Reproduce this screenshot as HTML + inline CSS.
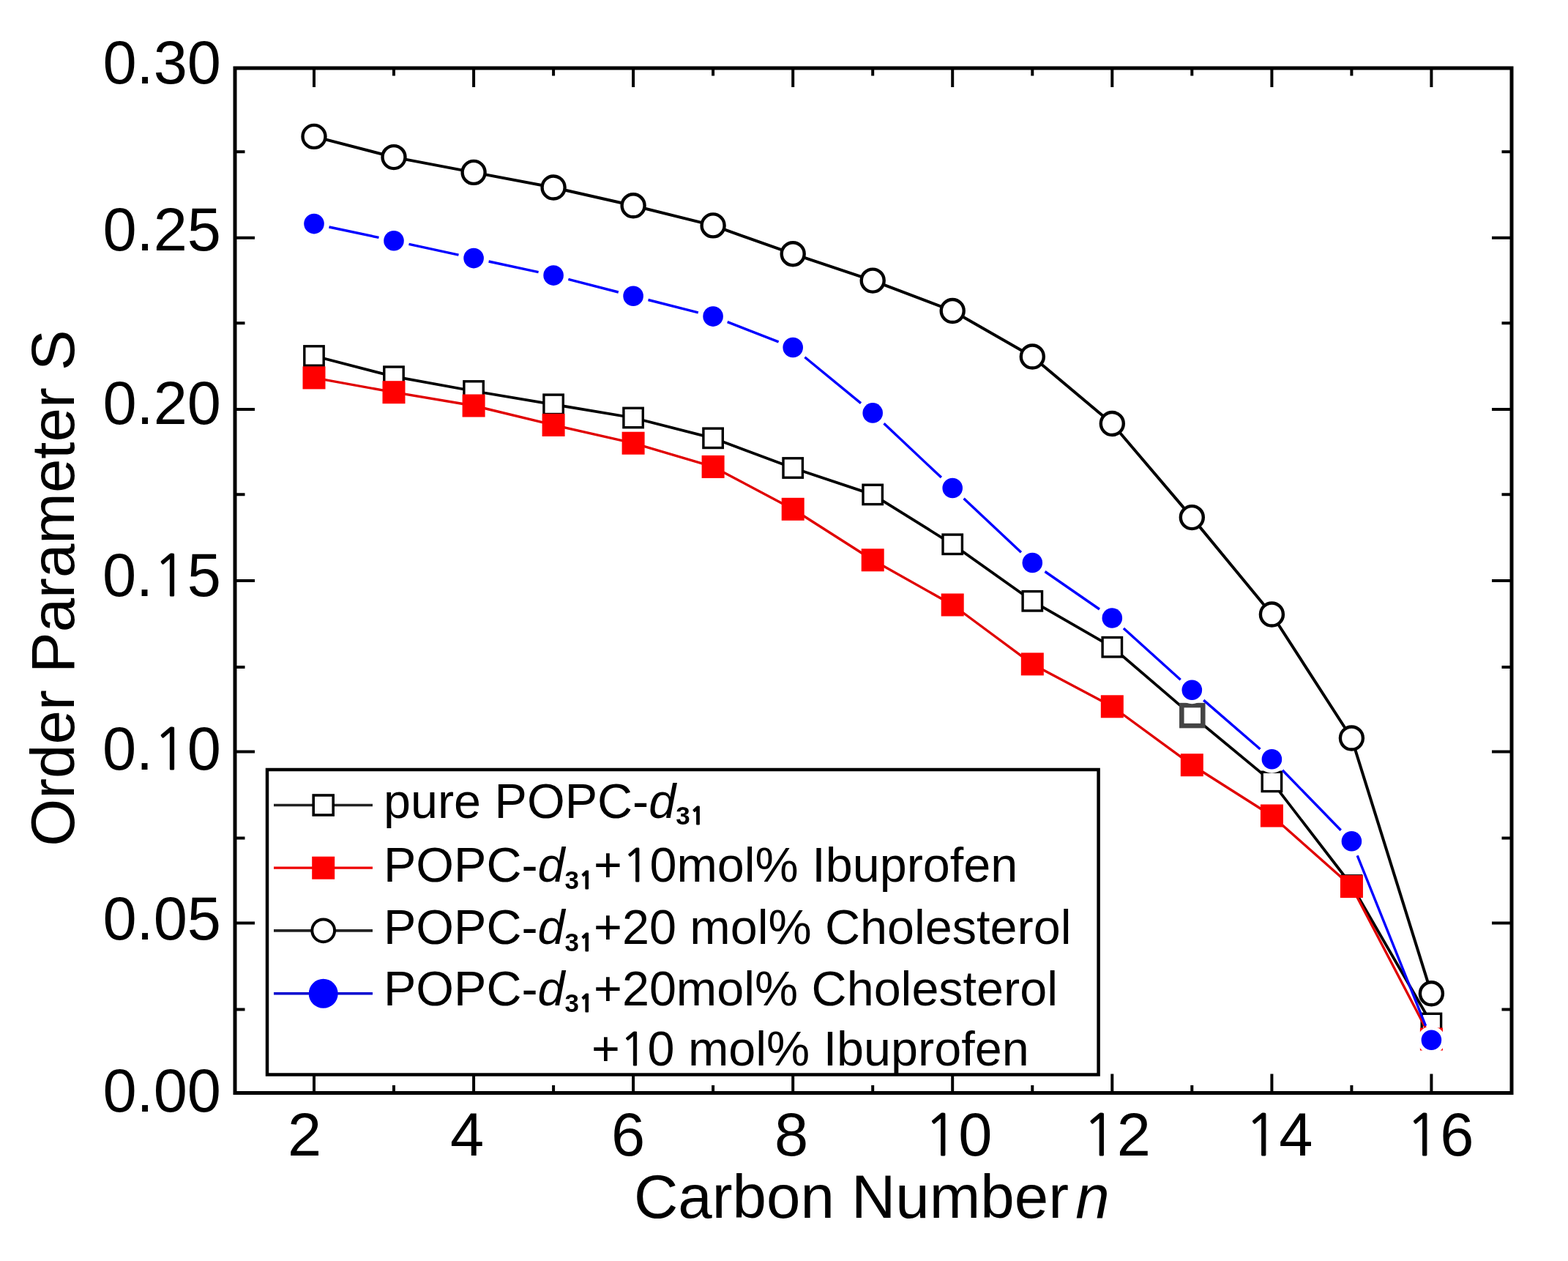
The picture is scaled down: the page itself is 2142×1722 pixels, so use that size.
<!DOCTYPE html>
<html><head><meta charset="utf-8"><title>Order Parameter</title>
<style>html,body{margin:0;padding:0;background:#fff;}svg{display:block;}</style></head>
<body>
<svg width="2142" height="1722" viewBox="0 0 2142 1722">
<rect x="0" y="0" width="2142" height="1722" fill="#fff"/>
<path d="M429.0 1492.5V1466.5M429.0 93V119M538.0 1492.5V1482.0M538.0 93V103.5M647.1 1492.5V1466.5M647.1 93V119M756.1 1492.5V1482.0M756.1 93V103.5M865.1 1492.5V1466.5M865.1 93V119M974.1 1492.5V1482.0M974.1 93V103.5M1083.2 1492.5V1466.5M1083.2 93V119M1192.2 1492.5V1482.0M1192.2 93V103.5M1301.2 1492.5V1466.5M1301.2 93V119M1410.3 1492.5V1482.0M1410.3 93V103.5M1519.3 1492.5V1466.5M1519.3 93V119M1628.3 1492.5V1482.0M1628.3 93V103.5M1737.4 1492.5V1466.5M1737.4 93V119M1846.4 1492.5V1482.0M1846.4 93V103.5M1955.4 1492.5V1466.5M1955.4 93V119M321 1492.5H348M2065 1492.5H2038M321 1378.5H334.5M2065 1378.5H2051.5M321 1260.5H348M2065 1260.5H2038M321 1144.6H334.5M2065 1144.6H2051.5M321 1026.5H348M2065 1026.5H2038M321 910.9H334.5M2065 910.9H2051.5M321 793.0H348M2065 793.0H2038M321 675.2H334.5M2065 675.2H2051.5M321 559.0H348M2065 559.0H2038M321 441.2H334.5M2065 441.2H2051.5M321 324.8H348M2065 324.8H2038M321 207.2H334.5M2065 207.2H2051.5M321 93.0H348M2065 93.0H2038" stroke="#000" stroke-width="4" fill="none"/>
<rect x="321" y="93" width="1744" height="1399.5" fill="none" stroke="#000" stroke-width="5"/>
<polyline points="429.0,486.0 538.0,514.2 647.1,534.0 756.1,552.3 865.1,570.5 974.1,598.3 1083.2,639.0 1192.2,675.4 1301.2,743.3 1410.3,820.8 1519.3,883.7 1628.3,977.1 1737.4,1067.4 1846.4,1209.0 1955.4,1397.5" fill="none" stroke="#000" stroke-width="3.8" stroke-linejoin="round"/>
<rect x="415.8" y="472.8" width="26.4" height="26.4" fill="#fff" stroke="#000" stroke-width="3.4"/>
<rect x="524.8" y="501.0" width="26.4" height="26.4" fill="#fff" stroke="#000" stroke-width="3.4"/>
<rect x="633.9" y="520.8" width="26.4" height="26.4" fill="#fff" stroke="#000" stroke-width="3.4"/>
<rect x="742.9" y="539.1" width="26.4" height="26.4" fill="#fff" stroke="#000" stroke-width="3.4"/>
<rect x="851.9" y="557.3" width="26.4" height="26.4" fill="#fff" stroke="#000" stroke-width="3.4"/>
<rect x="960.9" y="585.1" width="26.4" height="26.4" fill="#fff" stroke="#000" stroke-width="3.4"/>
<rect x="1070.0" y="625.8" width="26.4" height="26.4" fill="#fff" stroke="#000" stroke-width="3.4"/>
<rect x="1179.0" y="662.2" width="26.4" height="26.4" fill="#fff" stroke="#000" stroke-width="3.4"/>
<rect x="1288.0" y="730.1" width="26.4" height="26.4" fill="#fff" stroke="#000" stroke-width="3.4"/>
<rect x="1397.1" y="807.6" width="26.4" height="26.4" fill="#fff" stroke="#000" stroke-width="3.4"/>
<rect x="1506.1" y="870.5" width="26.4" height="26.4" fill="#fff" stroke="#000" stroke-width="3.4"/>
<rect x="1614.3" y="963.1" width="29" height="28" fill="#fff" stroke="#444" stroke-width="6.5"/>
<rect x="1724.2" y="1054.2" width="26.4" height="26.4" fill="#fff" stroke="#000" stroke-width="3.4"/>
<rect x="1833.2" y="1195.8" width="26.4" height="26.4" fill="#fff" stroke="#000" stroke-width="3.4"/>
<rect x="1942.2" y="1384.3" width="26.4" height="26.4" fill="#fff" stroke="#000" stroke-width="3.4"/>
<polyline points="429.0,515.9 538.0,535.7 647.1,554.0 756.1,580.4 865.1,605.2 974.1,637.4 1083.2,695.3 1192.2,764.8 1301.2,826.0 1410.3,906.9 1519.3,964.8 1628.3,1044.7 1737.4,1114.0 1846.4,1210.6 1955.4,1419.0" fill="none" stroke="#e00000" stroke-width="3.4" stroke-linejoin="round"/>
<rect x="413.5" y="500.4" width="31" height="31" fill="#f00"/>
<rect x="522.5" y="520.2" width="31" height="31" fill="#f00"/>
<rect x="631.6" y="538.5" width="31" height="31" fill="#f00"/>
<rect x="740.6" y="564.9" width="31" height="31" fill="#f00"/>
<rect x="849.6" y="589.7" width="31" height="31" fill="#f00"/>
<rect x="958.6" y="621.9" width="31" height="31" fill="#f00"/>
<rect x="1067.7" y="679.8" width="31" height="31" fill="#f00"/>
<rect x="1176.7" y="749.3" width="31" height="31" fill="#f00"/>
<rect x="1285.7" y="810.5" width="31" height="31" fill="#f00"/>
<rect x="1394.8" y="891.4" width="31" height="31" fill="#f00"/>
<rect x="1503.8" y="949.3" width="31" height="31" fill="#f00"/>
<rect x="1612.8" y="1029.2" width="31" height="31" fill="#f00"/>
<rect x="1721.9" y="1098.5" width="31" height="31" fill="#f00"/>
<rect x="1830.9" y="1195.1" width="31" height="31" fill="#f00"/>
<rect x="1939.9" y="1403.5" width="31" height="31" fill="#f00"/>
<polyline points="429.0,186.4 538.0,214.6 647.1,235.4 756.1,256.0 865.1,280.8 974.1,307.9 1083.2,346.7 1192.2,383.1 1301.2,424.5 1410.3,487.0 1519.3,578.5 1628.3,706.6 1737.4,839.0 1846.4,1008.0 1955.4,1356.8" fill="none" stroke="#000" stroke-width="4.0" stroke-linejoin="round"/>
<circle cx="429.0" cy="186.4" r="15.5" fill="#fff" stroke="#000" stroke-width="4.4"/>
<circle cx="538.0" cy="214.6" r="15.5" fill="#fff" stroke="#000" stroke-width="4.4"/>
<circle cx="647.1" cy="235.4" r="15.5" fill="#fff" stroke="#000" stroke-width="4.4"/>
<circle cx="756.1" cy="256.0" r="15.5" fill="#fff" stroke="#000" stroke-width="4.4"/>
<circle cx="865.1" cy="280.8" r="15.5" fill="#fff" stroke="#000" stroke-width="4.4"/>
<circle cx="974.1" cy="307.9" r="15.5" fill="#fff" stroke="#000" stroke-width="4.4"/>
<circle cx="1083.2" cy="346.7" r="15.5" fill="#fff" stroke="#000" stroke-width="4.4"/>
<circle cx="1192.2" cy="383.1" r="15.5" fill="#fff" stroke="#000" stroke-width="4.4"/>
<circle cx="1301.2" cy="424.5" r="15.5" fill="#fff" stroke="#000" stroke-width="4.4"/>
<circle cx="1410.3" cy="487.0" r="15.5" fill="#fff" stroke="#000" stroke-width="4.4"/>
<circle cx="1519.3" cy="578.5" r="15.5" fill="#fff" stroke="#000" stroke-width="4.4"/>
<circle cx="1628.3" cy="706.6" r="15.5" fill="#fff" stroke="#000" stroke-width="4.4"/>
<circle cx="1737.4" cy="839.0" r="15.5" fill="#fff" stroke="#000" stroke-width="4.4"/>
<circle cx="1846.4" cy="1008.0" r="15.5" fill="#fff" stroke="#000" stroke-width="4.4"/>
<circle cx="1955.4" cy="1356.8" r="15.5" fill="#fff" stroke="#000" stroke-width="4.4"/>
<circle cx="429.0" cy="305.6" r="19" fill="#fff"/>
<circle cx="538.0" cy="328.8" r="19" fill="#fff"/>
<circle cx="647.1" cy="352.6" r="19" fill="#fff"/>
<circle cx="756.1" cy="376.1" r="19" fill="#fff"/>
<circle cx="865.1" cy="404.3" r="19" fill="#fff"/>
<circle cx="974.1" cy="432.1" r="19" fill="#fff"/>
<circle cx="1083.2" cy="474.5" r="19" fill="#fff"/>
<circle cx="1192.2" cy="563.9" r="19" fill="#fff"/>
<circle cx="1301.2" cy="666.5" r="19" fill="#fff"/>
<circle cx="1410.3" cy="768.5" r="19" fill="#fff"/>
<circle cx="1519.3" cy="844.0" r="19" fill="#fff"/>
<circle cx="1628.3" cy="942.3" r="19" fill="#fff"/>
<circle cx="1737.4" cy="1036.8" r="19" fill="#fff"/>
<circle cx="1846.4" cy="1148.8" r="19" fill="#fff"/>
<circle cx="1955.4" cy="1420.3" r="19" fill="#fff"/>
<path d="M449.5 310.0L517.5 324.4M558.5 333.3L626.5 348.1M667.6 357.0L735.6 371.7M776.4 381.4L844.8 399.0M885.5 409.5L953.8 426.9M993.7 439.7L1063.6 466.9M1099.4 487.8L1176.0 550.6M1207.5 578.3L1285.9 652.1M1316.6 680.8L1394.9 754.2M1427.5 780.5L1502.0 832.0M1534.9 858.1L1612.7 928.2M1644.2 956.1L1721.5 1023.0M1752.0 1051.8L1831.7 1133.8M1854.2 1168.3L1947.6 1400.8" stroke="#00f" stroke-width="3.4" fill="none"/>
<circle cx="429.0" cy="305.6" r="13.8" fill="#00f"/>
<circle cx="538.0" cy="328.8" r="13.8" fill="#00f"/>
<circle cx="647.1" cy="352.6" r="13.8" fill="#00f"/>
<circle cx="756.1" cy="376.1" r="13.8" fill="#00f"/>
<circle cx="865.1" cy="404.3" r="13.8" fill="#00f"/>
<circle cx="974.1" cy="432.1" r="13.8" fill="#00f"/>
<circle cx="1083.2" cy="474.5" r="13.8" fill="#00f"/>
<circle cx="1192.2" cy="563.9" r="13.8" fill="#00f"/>
<circle cx="1301.2" cy="666.5" r="13.8" fill="#00f"/>
<circle cx="1410.3" cy="768.5" r="13.8" fill="#00f"/>
<circle cx="1519.3" cy="844.0" r="13.8" fill="#00f"/>
<circle cx="1628.3" cy="942.3" r="13.8" fill="#00f"/>
<circle cx="1737.4" cy="1036.8" r="13.8" fill="#00f"/>
<circle cx="1846.4" cy="1148.8" r="13.8" fill="#00f"/>
<circle cx="1955.4" cy="1420.3" r="13.8" fill="#00f"/>
<text x="302" y="114" font-family="Liberation Sans, Arial, sans-serif" font-size="83" text-anchor="end">0.30</text>
<text x="302" y="342" font-family="Liberation Sans, Arial, sans-serif" font-size="83" text-anchor="end">0.25</text>
<text x="302" y="579" font-family="Liberation Sans, Arial, sans-serif" font-size="83" text-anchor="end">0.20</text>
<text x="302" y="814" font-family="Liberation Sans, Arial, sans-serif" font-size="83" text-anchor="end">0.<tspan font-family="NanumGothic, Liberation Sans, sans-serif" stroke="#000" stroke-width="1" font-size="77">1</tspan>5</text>
<text x="302" y="1051" font-family="Liberation Sans, Arial, sans-serif" font-size="83" text-anchor="end">0.<tspan font-family="NanumGothic, Liberation Sans, sans-serif" stroke="#000" stroke-width="1" font-size="77">1</tspan>0</text>
<text x="302" y="1283" font-family="Liberation Sans, Arial, sans-serif" font-size="83" text-anchor="end">0.05</text>
<text x="302" y="1517.5" font-family="Liberation Sans, Arial, sans-serif" font-size="83" text-anchor="end">0.00</text>
<text x="416" y="1578" font-family="Liberation Sans, Arial, sans-serif" font-size="83" text-anchor="middle">2</text>
<text x="638" y="1578" font-family="Liberation Sans, Arial, sans-serif" font-size="83" text-anchor="middle">4</text>
<text x="858" y="1578" font-family="Liberation Sans, Arial, sans-serif" font-size="83" text-anchor="middle">6</text>
<text x="1081" y="1578" font-family="Liberation Sans, Arial, sans-serif" font-size="83" text-anchor="middle">8</text>
<text x="1309" y="1578" font-family="Liberation Sans, Arial, sans-serif" font-size="83" text-anchor="middle"><tspan font-family="NanumGothic, Liberation Sans, sans-serif" stroke="#000" stroke-width="1" font-size="77">1</tspan>0</text>
<text x="1525.5" y="1578" font-family="Liberation Sans, Arial, sans-serif" font-size="83" text-anchor="middle"><tspan font-family="NanumGothic, Liberation Sans, sans-serif" stroke="#000" stroke-width="1" font-size="77">1</tspan>2</text>
<text x="1747" y="1578" font-family="Liberation Sans, Arial, sans-serif" font-size="83" text-anchor="middle"><tspan font-family="NanumGothic, Liberation Sans, sans-serif" stroke="#000" stroke-width="1" font-size="77">1</tspan>4</text>
<text x="1967" y="1578" font-family="Liberation Sans, Arial, sans-serif" font-size="83" text-anchor="middle"><tspan font-family="NanumGothic, Liberation Sans, sans-serif" stroke="#000" stroke-width="1" font-size="77">1</tspan>6</text>
<text x="866" y="1663" font-family="Liberation Sans, Arial, sans-serif" font-size="83.5">Carbon Number <tspan font-style="italic" dx="-14">n</tspan></text>
<text transform="translate(101 803) rotate(-90)" font-family="Liberation Sans, Arial, sans-serif" font-size="83.5" text-anchor="middle">Order Parameter S</text>
<rect x="365" y="1051" width="1135.6" height="416.5" fill="#fff" stroke="#000" stroke-width="4.5"/>
<path d="M374 1099.5H509" stroke="#222" stroke-width="3.6"/>
<rect x="428.2" y="1086.0" width="27" height="27" fill="#fff" stroke="#000" stroke-width="3.6"/>
<path d="M374 1185.2H509" stroke="#e00" stroke-width="3.2"/>
<rect x="426.2" y="1169.7" width="31" height="31" fill="#f00"/>
<path d="M374 1270.8H509" stroke="#222" stroke-width="3.8"/>
<circle cx="441.7" cy="1270.8" r="15.4" fill="#fff" stroke="#000" stroke-width="4"/>
<path d="M374 1356.8H509" stroke="#0000d0" stroke-width="3.6"/>
<circle cx="441.7" cy="1356.8" r="20" fill="#00f"/>
<text x="524" y="1116.5" font-family="Liberation Sans, Arial, sans-serif" font-size="66.5">pure POPC-<tspan font-style="italic">d</tspan><tspan font-size="35" font-weight="bold" dy="9.5">3<tspan font-family="NanumGothic, Liberation Sans, sans-serif" font-size="33" stroke="#000" stroke-width="1.2">1</tspan></tspan><tspan dy="-9.5"></tspan></text>
<text x="524" y="1204" font-family="Liberation Sans, Arial, sans-serif" font-size="66.5">POPC-<tspan font-style="italic">d</tspan><tspan font-size="35" font-weight="bold" dy="9.5">3<tspan font-family="NanumGothic, Liberation Sans, sans-serif" font-size="33" stroke="#000" stroke-width="1.2">1</tspan></tspan><tspan dy="-9.5">+<tspan font-family="NanumGothic, Liberation Sans, sans-serif" stroke="#000" stroke-width="1" font-size="62">1</tspan>0mol% Ibuprofen</tspan></text>
<text x="524" y="1289" font-family="Liberation Sans, Arial, sans-serif" font-size="66.5">POPC-<tspan font-style="italic">d</tspan><tspan font-size="35" font-weight="bold" dy="9.5">3<tspan font-family="NanumGothic, Liberation Sans, sans-serif" font-size="33" stroke="#000" stroke-width="1.2">1</tspan></tspan><tspan dy="-9.5">+20 mol% Cholesterol</tspan></text>
<text x="524" y="1372.5" font-family="Liberation Sans, Arial, sans-serif" font-size="66.5">POPC-<tspan font-style="italic">d</tspan><tspan font-size="35" font-weight="bold" dy="9.5">3<tspan font-family="NanumGothic, Liberation Sans, sans-serif" font-size="33" stroke="#000" stroke-width="1.2">1</tspan></tspan><tspan dy="-9.5">+20mol% Cholesterol</tspan></text>
<text x="808" y="1455" font-family="Liberation Sans, Arial, sans-serif" font-size="66.5">+<tspan font-family="NanumGothic, Liberation Sans, sans-serif" stroke="#000" stroke-width="1" font-size="62">1</tspan>0 mol% Ibuprofen</text>
</svg>
</body></html>
